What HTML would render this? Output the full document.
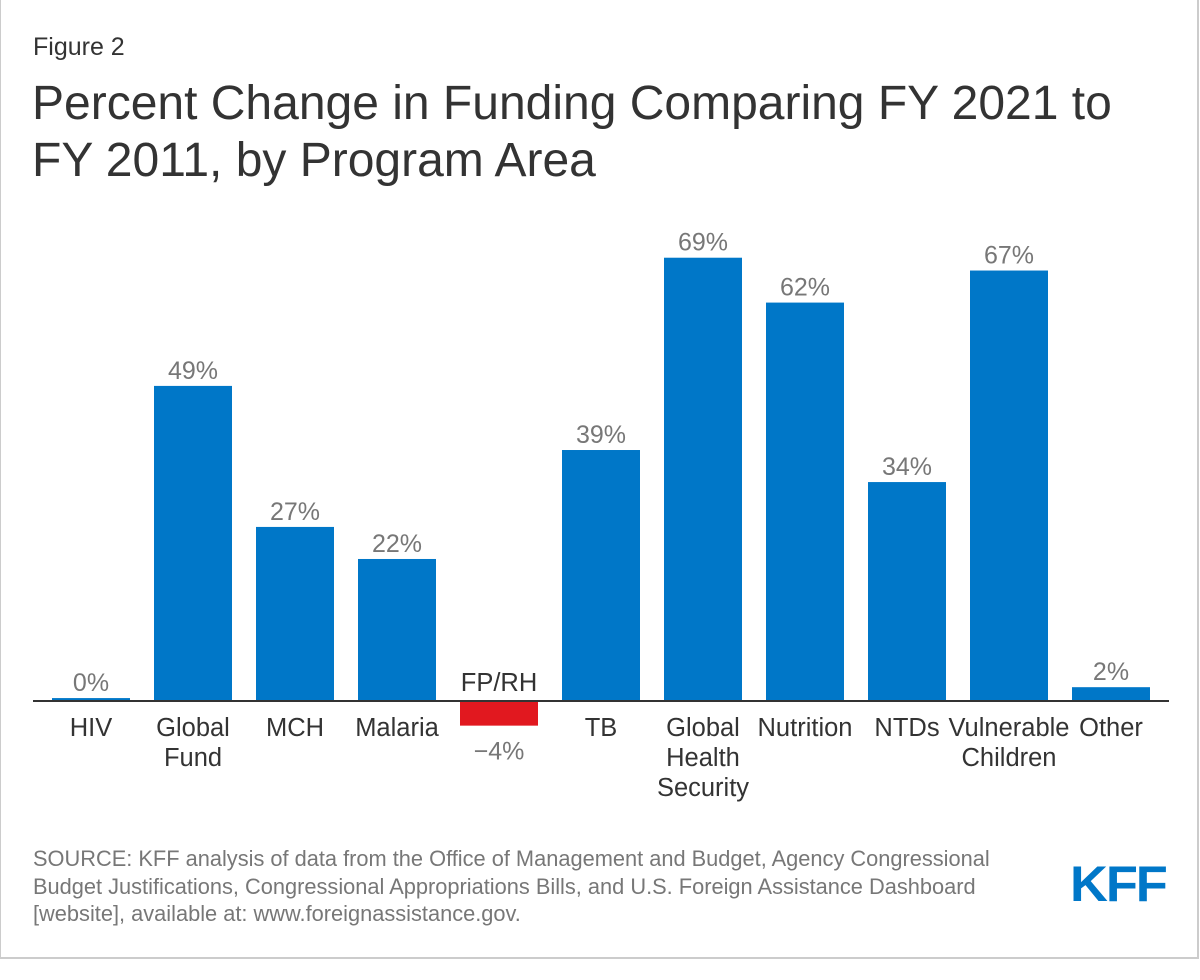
<!DOCTYPE html>
<html><head><meta charset="utf-8"><style>
body{margin:0;background:#fff;}
#frame{position:absolute;left:0;top:0;width:1196px;height:957px;border:1px solid #ccc;border-width:0 2px 2px 1px;background:#fff;font-family:"Liberation Sans",Arial,sans-serif;}
.t{position:absolute;white-space:nowrap}
</style></head><body>
<div id="frame">
<div class="t" style="left:32px;top:33px;font-size:25px;color:#333">Figure 2</div>
<div class="t" style="left:31px;top:75px;font-size:48px;line-height:57px;color:#333">Percent Change in Funding Comparing FY 2021 to<br>FY 2011, by Program Area</div>
<svg id="chart" width="1200" height="820" style="position:absolute;left:0;top:0"></svg>
<div class="t" style="left:32px;top:845px;font-size:21.8px;line-height:27.5px;color:#777">SOURCE: KFF analysis of data from the Office of Management and Budget, Agency Congressional<br>Budget Justifications, Congressional Appropriations Bills, and U.S. Foreign Assistance Dashboard<br>[website], available at: www.foreignassistance.gov.</div>
<div class="t" style="left:1069px;top:855px;font-size:50px;font-weight:bold;color:#0077c8;letter-spacing:-2px;transform:scaleX(1.05);transform-origin:left">KFF</div>
</div>
<script>
const categories=[["HIV"],["Global","Fund"],["MCH"],["Malaria"],["FP/RH"],["TB"],["Global","Health","Security"],["Nutrition"],["NTDs"],["Vulnerable","Children"],["Other"]];
const values=[0.3,49,27,22,-4,39,69,62,34,67,2];
const valueLabels=["0%","49%","27%","22%","\u22124%","39%","69%","62%","34%","67%","2%"];
const svg=document.getElementById('chart');const NS='http://www.w3.org/2000/svg';
const baseY=700,pxPer=6.41,x0=51,step=102,bw=78;
const y=v=>baseY-v*pxPer;
function mk(t,a){const e=document.createElementNS(NS,t);for(const k in a)e.setAttribute(k,a[k]);svg.appendChild(e);return e;}
values.forEach((v,i)=>{
 const x=x0+i*step;
 const r=mk('rect',{x:x,y:Math.min(y(v),baseY),width:bw,height:Math.abs(y(v)-baseY),fill:v<0?'#e1181f':'#0077c8'});
 
 
 const cx=x+bw/2;
 let lt;
 if(v<0){lt=mk('text',{x:cx,y:y(v)+34,'text-anchor':'middle','font-size':25,fill:'#777'});}
 else{lt=mk('text',{x:cx,y:y(v)-7,'text-anchor':'middle','font-size':25,fill:'#777'});}
 lt.textContent=valueLabels[i];
 
 
 const cat=categories[i];
 cat.forEach((w,j)=>{
  const ty=v<0?baseY-9:baseY+36+j*30;
  const t=mk('text',{x:cx,y:ty,'text-anchor':'middle','font-size':25.5,fill:'#333'});
  t.textContent=w;
  
  
 });
});
const ax=mk('line',{x1:32,x2:1168,y1:baseY+1,y2:baseY+1,stroke:'#333','stroke-width':2});


</script>
</body></html>
